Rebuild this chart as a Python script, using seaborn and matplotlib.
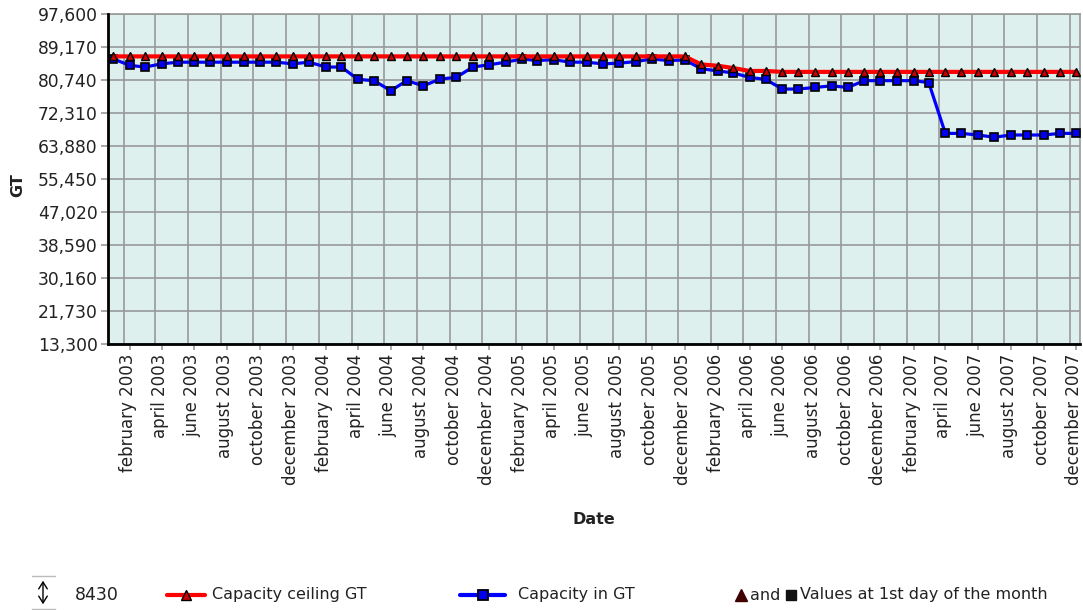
import numpy as np
import pandas as pd
import matplotlib
matplotlib.use('Agg')
import matplotlib.pyplot as plt
import matplotlib.dates as mdates
import matplotlib.transforms as mtransforms
from matplotlib.lines import Line2D
from matplotlib.ticker import FixedLocator, FuncFormatter
import seaborn as sns

sns.set_theme(style="white")
plt.rcParams['font.family'] = ['DejaVu Sans']

# monthly values, 1st day of each month, jan 2003 .. dec 2007
months = pd.date_range('2003-01-01', periods=60, freq='MS')

ceiling_gt = [
    86770, 86770, 86770, 86770, 86770, 86770, 86770, 86770, 86770, 86770, 86770, 86770,
    86770, 86770, 86770, 86770, 86770, 86770, 86770, 86770, 86770, 86770, 86770, 86770,
    86770, 86770, 86770, 86770, 86770, 86770, 86770, 86770, 86770, 86770, 86770, 86770,
    84710, 84380, 83800, 83050, 83050, 82810, 82810, 82810, 82810, 82810, 82810, 82810,
    82810, 82810, 82810, 82810, 82810, 82810, 82810, 82810, 82810, 82810, 82810, 82810,
]
capacity_gt = [
    86110, 84460, 84050, 84870, 85290, 85290, 85290, 85290, 85290, 85290, 85290, 84870,
    85290, 84050, 84050, 80900, 80570, 78010, 80570, 79250, 80990, 81400, 84050, 84620,
    85290, 86110, 85700, 85950, 85290, 85290, 84870, 85040, 85450, 86110, 85700, 85870,
    83630, 83050, 82560, 81400, 80900, 78430, 78430, 78840, 79250, 78840, 80570, 80570,
    80570, 80570, 80080, 67100, 67100, 66690, 66110, 66690, 66690, 66690, 67100, 67100,
]
y_ticks = [13300, 21730, 30160, 38590, 47020, 55450, 63880, 72310, 80740, 89170, 97600]
tick_step = 8430

df = pd.DataFrame({'Date': months, 'ceiling': ceiling_gt, 'capacity': capacity_gt})

RED = '#ff0000'
BLUE = '#0000ff'
GRID = '#999999'
BG = '#ddf0ed'
TXT = '#222222'

fig = plt.figure(figsize=(10.83, 6.10), dpi=100)
ax = fig.add_axes([107.5 / 1083, 1 - 344 / 610, (1080 - 107.5) / 1083, 330 / 610])
ax.set_facecolor(BG)

sns.lineplot(data=df, x='Date', y='capacity', ax=ax, color=BLUE, linewidth=2.3,
             marker='s', markersize=6, markerfacecolor='#0000ee', markeredgecolor='black',
             markeredgewidth=1.2, zorder=3)
sns.lineplot(data=df, x='Date', y='ceiling', ax=ax, color=RED, linewidth=3,
             marker='^', markersize=5.5, markerfacecolor='#cc0000', markeredgecolor='black',
             markeredgewidth=1.0, zorder=4)

# axis limits / ticks
ax.set_xlim(mdates.date2num(pd.Timestamp('2002-12-21')), mdates.date2num(pd.Timestamp('2007-12-08')))
ax.set_ylim(y_ticks[0], y_ticks[-1])
ax.yaxis.set_major_locator(FixedLocator(y_ticks))
ax.yaxis.set_major_formatter(FuncFormatter(lambda v, p: f"{v:,.0f}"))

tick_dates = months[1::2]
ax.xaxis.set_major_locator(FixedLocator(mdates.date2num(tick_dates)))
ax.xaxis.set_major_formatter(FuncFormatter(
    lambda v, p: mdates.num2date(v).strftime('%B %Y').lower()))
grid_dates = tick_dates - pd.Timedelta(days=12)
ax.xaxis.set_minor_locator(FixedLocator(mdates.date2num(grid_dates)))

ax.grid(False)
ax.grid(axis='y', which='major', color=GRID, linewidth=1.2, zorder=1)
ax.grid(axis='x', which='minor', color=GRID, linewidth=1.2, zorder=1)
ax.set_axisbelow(True)

ax.tick_params(axis='x', which='major', direction='out', length=4, width=1.2, color=GRID,
               labelsize=12, labelrotation=90, pad=3, bottom=True)
ax.tick_params(axis='x', which='minor', length=0)
ax.tick_params(axis='y', direction='out', length=5, width=1.2, color=GRID,
               labelsize=12.3, pad=2, left=True)
shift = mtransforms.ScaledTranslation(-2 / 100, 0, fig.dpi_scale_trans)
for lbl in ax.get_xticklabels():
    lbl.set_color(TXT)
    lbl.set_va('top')
    lbl.set_transform(lbl.get_transform() + shift)
for lbl in ax.get_yticklabels():
    lbl.set_color(TXT)

for side in ['left', 'bottom']:
    ax.spines[side].set_color('black')
    ax.spines[side].set_linewidth(2)
    ax.spines[side].set_zorder(5)
for side in ['top', 'right']:
    ax.spines[side].set_color(GRID)
    ax.spines[side].set_linewidth(1.2)

ax.set_xlabel('Date', fontsize=11.5, fontweight='bold', color=TXT)
ax.set_ylabel('GT', fontsize=11.5, fontweight='bold', color=TXT)
ax.xaxis.set_label_coords(0.5, -(520 - 344) / 330)
ax.yaxis.set_label_coords(-(107.5 - 18) / 972.5, (344 - 185) / 330)
ax.xaxis.label.set_va('center')
ax.yaxis.label.set_va('center')

# legend row at the bottom
def fx(px):
    return px / 1083

def fy(py):
    return 1 - py / 610

ly = 595
fs = 11.5
fig.add_artist(Line2D([fx(32), fx(55)], [fy(576), fy(576)], color='#bbbbbb', lw=1, transform=fig.transFigure))
fig.add_artist(Line2D([fx(32), fx(55)], [fy(609), fy(609)], color='#bbbbbb', lw=1, transform=fig.transFigure))
fig.patches.append(matplotlib.patches.FancyArrowPatch(
    (fx(43), fy(578)), (fx(43), fy(607)), transform=fig.transFigure,
    arrowstyle='<->,head_length=0.35,head_width=0.22', mutation_scale=14, color='black', lw=1))
fig.text(fx(75), fy(ly), str(tick_step), fontsize=12.5, va='center', ha='left', color=TXT)

fig.add_artist(Line2D([fx(167), fx(205)], [fy(ly), fy(ly)], color=RED, lw=3, transform=fig.transFigure))
fig.add_artist(Line2D([fx(186)], [fy(ly)], marker='^', markersize=7, markerfacecolor='#cc0000',
                      markeredgecolor='black', markeredgewidth=1, transform=fig.transFigure))
fig.text(fx(212), fy(ly), 'Capacity ceiling GT', fontsize=fs, va='center', ha='left', color=TXT)

fig.add_artist(Line2D([fx(460), fx(505)], [fy(ly), fy(ly)], color=BLUE, lw=3, transform=fig.transFigure))
fig.add_artist(Line2D([fx(483)], [fy(ly)], marker='s', markersize=6.5, markerfacecolor='#0000ee',
                      markeredgecolor='black', markeredgewidth=1.3, transform=fig.transFigure))
fig.text(fx(518), fy(ly), 'Capacity in GT', fontsize=fs, va='center', ha='left', color=TXT)

fig.add_artist(Line2D([fx(741)], [fy(ly)], marker='^', markersize=8, markerfacecolor='#400000',
                      markeredgecolor='#400000', transform=fig.transFigure))
fig.text(fx(750), fy(ly), 'and', fontsize=fs, va='center', ha='left', color=TXT)
fig.add_artist(Line2D([fx(791)], [fy(ly)], marker='s', markersize=7, markerfacecolor='#111111',
                      markeredgecolor='#111111', transform=fig.transFigure))
fig.text(fx(800), fy(ly), 'Values at 1st day of the month', fontsize=fs, va='center', ha='left',
         color=TXT)

fig.savefig('out.png', dpi=100, facecolor='white')
